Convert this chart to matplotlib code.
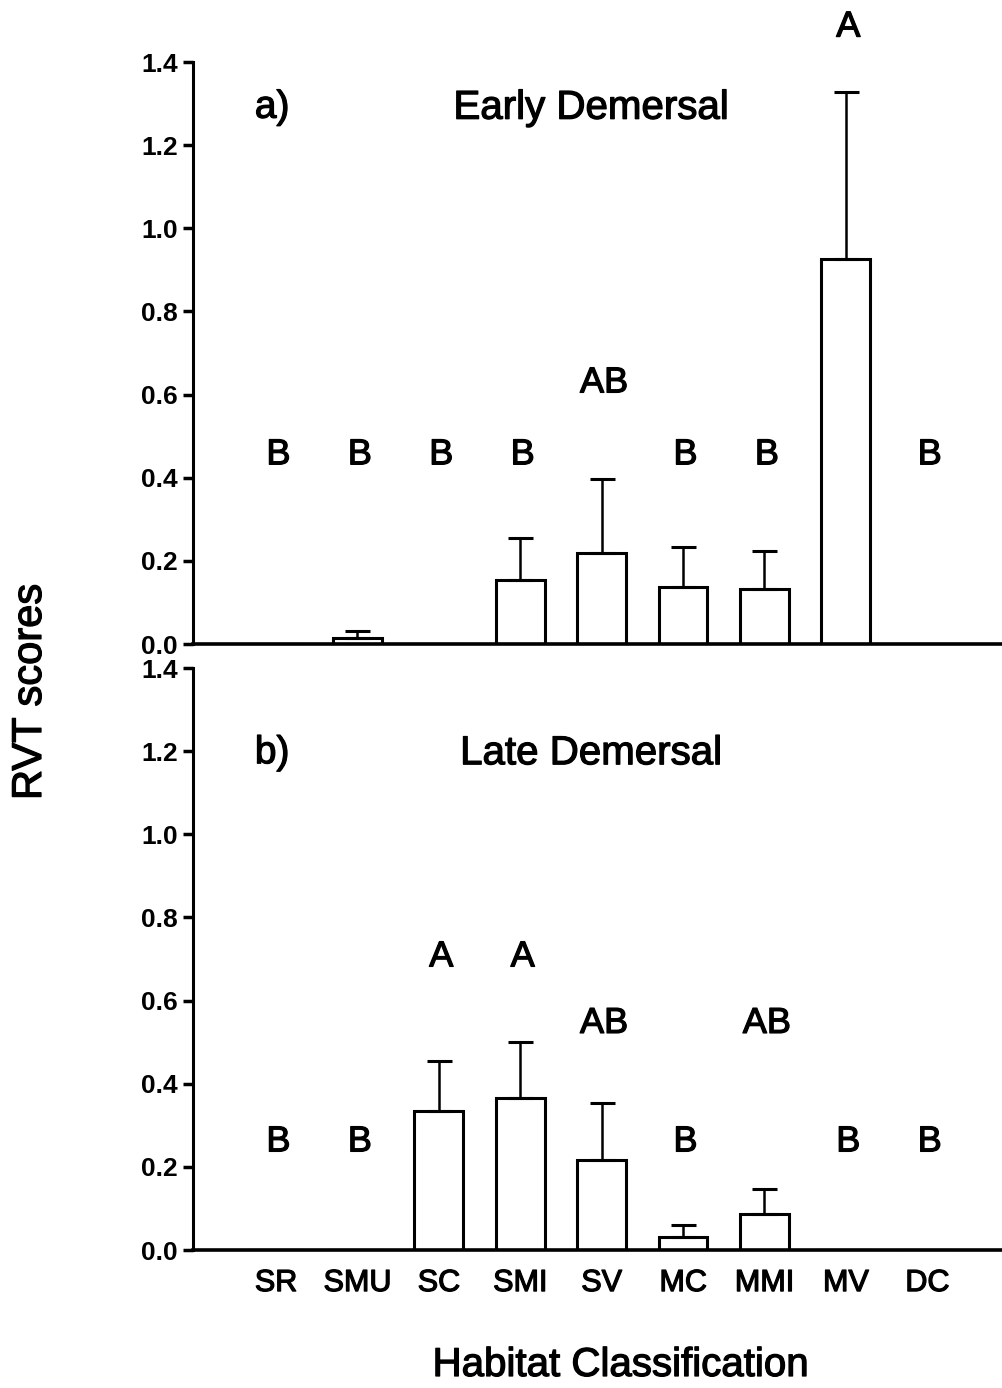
import matplotlib
matplotlib.use("Agg")
import matplotlib.pyplot as plt
import matplotlib.patheffects as pe
import numpy as np

plt.rcParams['font.family'] = ['Liberation Sans', 'DejaVu Sans']

categories = ["SR", "SMU", "SC", "SMI", "SV", "MC", "MMI", "MV", "DC"]

early_mean = [0.0, 0.015, 0.0, 0.153, 0.219, 0.137, 0.133, 0.926, 0.0]
early_err = [0.0, 0.016, 0.0, 0.103, 0.178, 0.097, 0.091, 0.403, 0.0]
early_letters = ["B", "B", "B", "B", "AB", "B", "B", "A", "B"]
early_letter_y = [0.455, 0.455, 0.455, 0.455, 0.628, 0.455, 0.455, 1.484, 0.455]

late_mean = [0.0, 0.0, 0.334, 0.366, 0.217, 0.032, 0.086, 0.0, 0.0]
late_err = [0.0, 0.0, 0.121, 0.135, 0.137, 0.028, 0.061, 0.0, 0.0]
late_letters = ["B", "B", "A", "A", "AB", "B", "AB", "B", "B"]
late_letter_y = [0.26, 0.26, 0.705, 0.705, 0.545, 0.26, 0.545, 0.26, 0.26]

yticks = [0.0, 0.2, 0.4, 0.6, 0.8, 1.0, 1.2, 1.4]

W, H = 1003, 1388
fig = plt.figure(figsize=(W / 100, H / 100), dpi=100)

heavy = [pe.withStroke(linewidth=0.9, foreground='black')]

left = 193 / W
ax1 = fig.add_axes([left, (H - 644) / H, 1 - left, (644 - 62) / H])
ax2 = fig.add_axes([left, (H - 1250) / H, 1 - left, (1250 - 668) / H])

x = np.arange(len(categories))


def draw(ax, mean, err, letters, ly, label, title, ptitle_y):
    ax.bar(x, mean, width=0.6, color='white', edgecolor='black', linewidth=2.2, zorder=2)
    mask = [e > 0 for e in err]
    ax.errorbar(x[mask], np.array(mean)[mask], yerr=[np.zeros(sum(mask)), np.array(err)[mask]],
                fmt='none', ecolor='black', elinewidth=1.8, capsize=9, capthick=2.2, zorder=3)
    ax.set_xlim(-1.02, 8.93)
    ax.set_ylim(0, 1.4)
    ax.set_yticks(yticks)
    ax.set_yticklabels([f"{v:.1f}" for v in yticks], fontsize=19, fontweight='bold')
    for s in ['top', 'right']:
        ax.spines[s].set_visible(False)
    ax.spines['left'].set_linewidth(2.2)
    ax.spines['bottom'].set_linewidth(2.6)
    ax.tick_params(axis='y', direction='out', length=7, width=2.5, pad=4)
    for xi, l, yy in zip(x, letters, ly):
        ax.text(xi + 0.03, yy, l, ha='center', va='center', fontsize=26, clip_on=False,
                path_effects=heavy)
    ax.text(-0.26, ptitle_y, label, ha='left', va='center', fontsize=28, path_effects=heavy)
    ax.text(3.87, ptitle_y, title, ha='center', va='center', fontsize=29, path_effects=heavy)


draw(ax1, early_mean, early_err, early_letters, early_letter_y, "a)", "Early Demersal", 1.29)
draw(ax2, late_mean, late_err, late_letters, late_letter_y, "b)", "Late Demersal", 1.195)

ax1.set_xticks([])
ax2.set_xticks(x)
ax2.set_xticklabels(categories, fontsize=22)
for t in ax2.get_xticklabels():
    t.set_path_effects(heavy)
ax2.tick_params(axis='x', length=0, pad=13)

fig.text(621 / W, (H - 1365) / H, "Habitat Classification", ha='center', va='center',
         fontsize=29, path_effects=heavy)
fig.text(30 / W, (H - 692) / H, "RVT scores", ha='center', va='center', rotation=90,
         fontsize=30, path_effects=heavy)

fig.savefig("out.png", dpi=100, facecolor='white')
